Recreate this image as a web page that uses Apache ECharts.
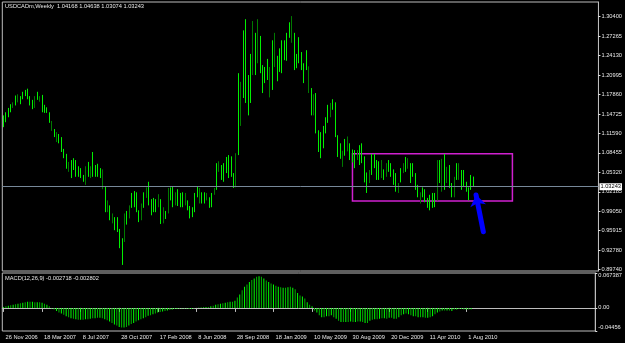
<!DOCTYPE html>
<html><head><meta charset="utf-8">
<script src="https://cdn.jsdelivr.net/npm/echarts@6/dist/echarts.min.js"></script>
<style>html,body{margin:0;padding:0;background:#000}#c{width:625px;height:343px}</style>
</head><body><div id="c"></div>
<script>
// ---------- data ----------
const symbolName = 'USDCADm,Weekly';
const firstWeek = [2006, 10, 26]; // 26 Nov 2006
const totalWeeks = 246;          // bars + empty space to the right (chart shift)
const timeTickLabels = ['26 Nov 2006','18 Mar 2007','8 Jul 2007','28 Oct 2007','17 Feb 2008','8 Jun 2008','28 Sep 2008','18 Jan 2009','10 May 2009','30 Aug 2009','20 Dec 2009','11 Apr 2010','1 Aug 2010'];
const priceTicks = [1.30400,1.27265,1.24130,1.20995,1.17860,1.14725,1.11590,1.08455,1.05320,1.02185,0.99050,0.95915,0.92780,0.89740];
const macdTicks = [0.067387, 0, -0.04456];
const macdTickLabels = ['0.067387', '0.00', '-0.04456'];
const macdMainNow = -0.002718, macdSignalNow = -0.002802;

const opens = [
1.141,1.147,1.154,1.160,1.159,1.174,1.168,1.173,1.180,1.184,
1.185,1.173,1.167,1.160,1.180,1.169,1.174,1.159,1.156,1.147,
1.123,1.120,1.105,1.112,1.106,1.088,1.079,1.057,1.069,1.073,
1.069,1.060,1.057,1.047,1.036,1.066,1.047,1.081,1.062,1.064,
1.057,1.029,1.027,0.992,0.997,0.974,0.978,0.978,0.958,0.943,
0.944,0.988,0.982,1.017,1.019,1.018,0.989,0.979,1.018,1.015,
1.034,1.007,1.009,1.007,1.000,1.006,0.974,0.988,0.990,1.026,
1.027,1.003,1.023,1.017,1.018,1.003,1.005,0.996,0.994,1.016,
1.028,1.006,1.018,1.018,1.010,1.010,1.017,1.019,1.063,1.057,
1.062,1.064,1.074,1.077,1.075,1.049,1.033,1.205,1.134,1.275,
1.290,1.205,1.238,1.215,1.272,1.235,1.268,1.222,1.220,1.232,
1.178,1.260,1.227,1.237,1.249,1.261,1.262,1.274,1.292,1.266,
1.273,1.241,1.267,1.244,1.226,1.246,1.185,1.185,1.149,1.176,
1.117,1.114,1.124,1.139,1.158,1.145,1.168,1.161,1.109,1.097,
1.065,1.104,1.090,1.097,1.087,1.085,1.076,1.093,1.096,1.075,
1.049,1.039,1.079,1.080,1.069,1.067,1.047,1.055,1.049,1.070,
1.065,1.055,1.048,1.023,1.057,1.055,1.075,1.062,1.064,1.065,
1.048,1.030,1.006,1.026,1.023,1.009,1.014,1.017,1.017,1.012,
1.069,1.026,1.078,1.039,1.061,1.033,1.016,1.065,1.044,1.053,
1.054,1.035,1.026,1.046,1.04168];
const highs = [
1.145,1.150,1.157,1.163,1.166,1.177,1.179,1.176,1.183,1.186,
1.188,1.176,1.170,1.176,1.183,1.176,1.178,1.162,1.158,1.150,
1.136,1.123,1.118,1.115,1.110,1.091,1.083,1.070,1.073,1.076,
1.073,1.063,1.060,1.049,1.063,1.070,1.063,1.086,1.065,1.067,
1.060,1.058,1.031,1.008,1.000,0.987,0.981,0.981,0.962,0.947,
0.987,0.991,1.000,1.020,1.023,1.021,0.992,1.003,1.021,1.029,
1.038,1.010,1.012,1.010,1.018,1.010,0.997,0.991,1.028,1.029,
1.031,1.021,1.026,1.020,1.021,1.020,1.008,0.999,0.997,1.020,
1.031,1.028,1.021,1.021,1.020,1.013,1.020,1.028,1.068,1.071,
1.065,1.068,1.078,1.081,1.079,1.052,1.084,1.213,1.199,1.282,
1.300,1.210,1.244,1.297,1.278,1.300,1.273,1.226,1.223,1.236,
1.223,1.266,1.278,1.241,1.253,1.266,1.266,1.278,1.295,1.305,
1.278,1.244,1.271,1.247,1.229,1.250,1.224,1.189,1.179,1.181,
1.121,1.118,1.128,1.142,1.162,1.165,1.171,1.166,1.113,1.100,
1.088,1.107,1.111,1.100,1.090,1.089,1.089,1.097,1.100,1.079,
1.053,1.057,1.083,1.083,1.073,1.071,1.073,1.058,1.068,1.073,
1.068,1.058,1.052,1.036,1.060,1.068,1.078,1.076,1.068,1.068,
1.052,1.033,1.021,1.029,1.026,1.012,1.017,1.020,1.020,1.073,
1.073,1.075,1.083,1.062,1.065,1.036,1.046,1.068,1.068,1.057,
1.057,1.038,1.029,1.049,1.04638];
const lows = [
1.126,1.134,1.142,1.150,1.157,1.161,1.166,1.163,1.171,1.176,
1.171,1.161,1.155,1.157,1.170,1.167,1.150,1.149,1.149,1.133,
1.120,1.110,1.102,1.100,1.086,1.076,1.059,1.054,1.044,1.057,
1.046,1.046,1.044,1.038,1.033,1.046,1.044,1.046,1.046,1.046,
1.044,1.026,0.989,0.989,0.976,0.971,0.960,0.957,0.931,0.904,
0.941,0.969,0.979,0.996,0.997,0.989,0.973,0.976,0.996,1.012,
1.000,0.984,0.989,0.989,0.997,0.970,0.971,0.978,0.987,1.008,
0.997,1.000,0.999,0.997,0.997,1.000,0.992,0.979,0.981,0.989,
1.013,1.003,1.003,1.003,1.008,0.996,0.997,1.017,1.025,1.054,
1.041,1.038,1.052,1.044,1.046,1.028,1.029,1.081,1.128,1.173,
1.165,1.145,1.165,1.210,1.210,1.229,1.213,1.181,1.197,1.202,
1.174,1.186,1.223,1.200,1.215,1.213,1.234,1.233,1.270,1.262,
1.218,1.221,1.229,1.218,1.197,1.218,1.181,1.145,1.145,1.116,
1.086,1.076,1.092,1.116,1.133,1.142,1.154,1.110,1.078,1.075,
1.062,1.080,1.087,1.073,1.069,1.060,1.073,1.065,1.068,1.037,
1.020,1.036,1.049,1.060,1.041,1.041,1.044,1.041,1.046,1.054,
1.046,1.033,1.022,1.020,1.037,1.052,1.054,1.059,1.036,1.046,
1.025,1.013,1.003,1.013,1.005,0.996,0.992,0.996,0.997,1.008,
1.036,1.022,1.025,1.036,1.028,1.013,1.013,1.041,1.041,1.025,
1.030,1.022,1.008,1.025,1.03074];
const closes = [
1.130,1.138,1.146,1.153,1.164,1.165,1.176,1.166,1.174,1.178,
1.174,1.164,1.158,1.173,1.173,1.174,1.153,1.152,1.151,1.136,
1.133,1.113,1.115,1.103,1.089,1.079,1.062,1.067,1.047,1.060,
1.049,1.049,1.047,1.040,1.059,1.049,1.060,1.050,1.049,1.049,
1.047,1.054,0.993,1.005,0.979,0.984,0.963,0.960,0.934,0.908,
0.983,0.972,0.997,0.999,1.000,0.992,0.976,1.000,0.999,1.026,
1.003,0.987,0.992,0.992,1.015,0.974,0.994,0.981,1.024,1.011,
1.000,1.018,1.002,1.000,1.000,1.017,0.995,0.982,0.984,0.992,
1.016,1.025,1.006,1.006,1.018,0.999,1.000,1.026,1.029,1.068,
1.044,1.041,1.055,1.047,1.049,1.031,1.080,1.090,1.193,1.180,
1.175,1.150,1.170,1.290,1.215,1.294,1.218,1.185,1.200,1.205,
1.219,1.191,1.274,1.204,1.219,1.217,1.238,1.237,1.273,1.301,
1.222,1.224,1.233,1.221,1.200,1.221,1.220,1.149,1.175,1.121,
1.090,1.080,1.096,1.119,1.136,1.162,1.157,1.114,1.082,1.078,
1.085,1.083,1.108,1.076,1.072,1.063,1.086,1.068,1.071,1.041,
1.023,1.054,1.052,1.063,1.044,1.044,1.069,1.044,1.065,1.057,
1.049,1.036,1.025,1.033,1.040,1.065,1.057,1.073,1.039,1.049,
1.028,1.016,1.018,1.016,1.008,0.999,0.995,0.999,1.000,1.068,
1.040,1.070,1.029,1.059,1.031,1.016,1.043,1.044,1.065,1.028,
1.033,1.025,1.011,1.028,1.03243];
const macd = [
0.002,0.003,0.004,0.005,0.006,0.007,0.008,0.009,0.010,0.011,0.012,0.012,0.012,0.011,0.011,0.011,0.010,0.008,0.006,0.003,
-0.001,-0.003,-0.006,-0.009,-0.011,-0.013,-0.016,-0.018,-0.020,-0.021,-0.022,-0.023,-0.023,-0.023,-0.022,-0.022,-0.021,-0.020,-0.020,-0.019,
-0.019,-0.020,-0.022,-0.024,-0.026,-0.029,-0.032,-0.034,-0.037,-0.038,-0.038,-0.037,-0.034,-0.031,-0.029,-0.026,-0.024,-0.022,-0.020,-0.018,
-0.015,-0.014,-0.012,-0.011,-0.009,-0.008,-0.007,-0.006,-0.005,-0.004,-0.003,-0.002,-0.002,-0.001,-0.001,-0.001,-0.001,-0.002,-0.002,-0.001,
0.000,0.001,0.001,0.002,0.002,0.002,0.003,0.004,0.006,0.007,0.008,0.009,0.010,0.011,0.012,0.012,0.014,0.020,0.026,0.034,
0.041,0.045,0.050,0.054,0.057,0.060,0.061,0.060,0.057,0.053,0.050,0.047,0.045,0.043,0.041,0.040,0.039,0.039,0.040,0.041,
0.039,0.036,0.029,0.024,0.022,0.018,0.011,0.006,0.003,-0.005,-0.009,-0.014,-0.018,-0.018,-0.016,-0.016,-0.014,-0.018,-0.021,-0.025,
-0.027,-0.027,-0.027,-0.027,-0.026,-0.027,-0.027,-0.026,-0.026,-0.027,-0.029,-0.029,-0.025,-0.023,-0.022,-0.022,-0.021,-0.020,-0.020,-0.021,
-0.019,-0.019,-0.021,-0.021,-0.018,-0.014,-0.012,-0.011,-0.012,-0.014,-0.016,-0.016,-0.018,-0.018,-0.018,-0.019,-0.019,-0.018,-0.016,-0.012,
-0.009,-0.007,-0.005,-0.005,-0.005,-0.005,-0.006,-0.003,-0.003,-0.002,-0.002,-0.003,-0.003,-0.003,-0.0027];

// drawn objects on the chart (rectangle and arrow), in chart coordinates
const boxFromWeek = 144, boxToWeek = 210, boxTop = 1.0832, boxBottom = 1.0070;
const arrowTail = {week: 198, price: 0.9576};
const arrowTip = {week: 195, price: 1.0167};

// ---------- build ----------
const MON = ['Jan','Feb','Mar','Apr','May','Jun','Jul','Aug','Sep','Oct','Nov','Dec'];
const categories = [];
for (let i = 0; i < totalWeeks; i++) {
  const d = new Date(Date.UTC(firstWeek[0], firstWeek[1], firstWeek[2] + i * 7));
  categories.push(d.getUTCDate() + ' ' + MON[d.getUTCMonth()] + ' ' + d.getUTCFullYear());
}
const tickSet = new Set(timeTickLabels);
const candles = opens.map((o, i) => [o, closes[i], lows[i], highs[i]]);
const last = closes.length - 1;

const FONT = 'Liberation Sans';
const FS = 5.7;
const TXT = '#e8e8e8';
const FRAME = '#bdbdbd';
const BRIGHT = '#00f000';
const DARK = '#007a00';

const chart = echarts.init(document.getElementById('c'), null, {renderer: 'canvas'});
chart.setOption({
  backgroundColor: '#000',
  animation: false,
  title: [
    {text: symbolName + '  ' + [opens[last], highs[last], lows[last], closes[last]].map(v => v.toFixed(5)).join(' '),
     left: 5, top: 3.5, padding: 0,
     textStyle: {color: TXT, fontSize: FS, fontWeight: 'normal', fontFamily: FONT}},
    {text: 'MACD(12,26,9) ' + macdMainNow.toFixed(6) + ' ' + macdSignalNow.toFixed(6),
     left: 5, top: 275, padding: 0,
     textStyle: {color: TXT, fontSize: FS, fontWeight: 'normal', fontFamily: FONT}}
  ],
  grid: [
    {left: 2.3, right: 25.7, top: 2, height: 269, show: true, borderColor: FRAME, borderWidth: 1},
    {left: 2.3, right: 25.7, top: 273, height: 58, show: true, borderColor: FRAME, borderWidth: 1}
  ],
  xAxis: [
    {type: 'category', gridIndex: 0, data: categories, boundaryGap: true,
     axisLine: {show: false}, axisTick: {show: false}, axisLabel: {show: false}, splitLine: {show: false}},
    {type: 'category', gridIndex: 1, data: categories, boundaryGap: true,
     axisLine: {show: true, lineStyle: {color: FRAME}},
     axisTick: {show: true, alignWithLabel: true, length: 4, interval: (i, v) => tickSet.has(v), lineStyle: {color: FRAME}},
     axisLabel: {interval: (i, v) => tickSet.has(v), align: 'left', margin: 3, padding: [0, 0, 0, 2],
                 color: TXT, fontSize: FS, fontFamily: FONT},
     splitLine: {show: false}}
  ],
  yAxis: [
    {type: 'value', gridIndex: 0, position: 'right', min: 0.89423, max: 1.32769,
     splitLine: {show: false}, axisLine: {show: true, lineStyle: {color: FRAME}},
     axisTick: {show: true, length: 2, customValues: priceTicks, lineStyle: {color: TXT}},
     axisLabel: {customValues: priceTicks, formatter: v => v.toFixed(5), margin: 3,
                 color: TXT, fontSize: FS, fontFamily: FONT}},
    {type: 'value', gridIndex: 1, position: 'right', min: macdTicks[2], max: macdTicks[0],
     splitLine: {show: false}, axisLine: {show: true, lineStyle: {color: FRAME}},
     axisTick: {show: true, length: 2, customValues: macdTicks, lineStyle: {color: TXT}},
     axisLabel: {customValues: macdTicks, margin: 3, color: TXT, fontSize: FS, fontFamily: FONT,
                 formatter: v => {
                   const k = macdTicks.findIndex(t => Math.abs(t - v) < 1e-9);
                   const tag = k === 0 ? 't' : (k === 2 ? 'b' : 'm');
                   return '{' + tag + '|' + macdTickLabels[k] + '}';
                 },
                 rich: {t: {padding: [4, 0, 0, 0]}, b: {padding: [0, 0, 8, 0]}, m: {}}}}
  ],
  series: [
    {type: 'candlestick', name: 'USDCADm', xAxisIndex: 0, yAxisIndex: 0, data: candles,
     barWidth: 0.4,
     itemStyle: {color: DARK, color0: BRIGHT, borderColor: DARK, borderColor0: BRIGHT, borderWidth: 1},
     markLine: {
       silent: true, symbol: ['none', 'none'], animation: false,
       data: [
         {yAxis: closes[last], lineStyle: {color: '#778899', width: 1, type: 'solid'},
          label: {show: true, position: 'end', formatter: closes[last].toFixed(5), backgroundColor: '#ffffff',
                  color: '#000', fontSize: FS, fontFamily: FONT, padding: [1, 1, 0, 1], distance: 1}},
         [{coord: [categories[arrowTail.week], arrowTail.price], symbol: 'none',
           lineStyle: {color: '#0000ff', width: 5, type: 'solid', cap: 'round'}, label: {show: false}},
          {coord: [categories[arrowTip.week], arrowTip.price], symbol: 'arrow', symbolSize: [12, 11]}]
       ]
     },
     markArea: {
       silent: true,
       itemStyle: {color: 'rgba(0,0,0,0)', borderColor: '#d020d0', borderWidth: 1.5},
       data: [[{xAxis: categories[boxFromWeek], yAxis: boxTop}, {xAxis: categories[boxToWeek], yAxis: boxBottom}]]
     }},
    {type: 'bar', name: 'MACD', xAxisIndex: 1, yAxisIndex: 1, data: macd, barWidth: 1,
     itemStyle: {color: p => (p.dataIndex % 2 ? '#00b400' : '#00ff00')}}
  ]
});
</script></body></html>
